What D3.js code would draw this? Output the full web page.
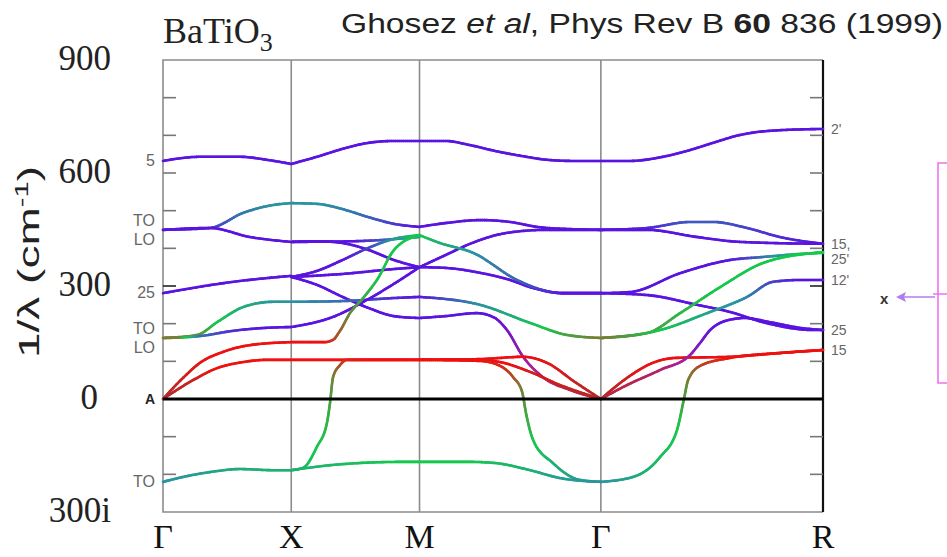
<!DOCTYPE html>
<html>
<head>
<meta charset="utf-8">
<script src="https://d3js.org/d3.v7.min.js"></script>
<style>
	body { margin: 0; background: #fff; }
</style>
</head>
<body>
<div class="chart"></div>
<script>

	// high symmetry points along the path (units of 2pi/a)
	var kLabels = ["Γ", "X", "M", "Γ", "R"];
	var kPos = [0, 0.5, 1.0, 1.707, 2.573];

	// frequency axis (cm-1), negative = imaginary
	var yTickValues = [-300, 0, 300, 600, 900];
	var yTickLabels = ["300i", "0", "300", "600", "900"];
	var minorTicks = [-200, -100, 100, 200, 300, 400, 500, 600, 700, 800];

	// mode labels at Gamma (left) and R (right)
	var gammaLabels = ["5", "TO", "LO", "25", "TO", "LO", "A", "TO"];
	var gammaFreqs = [632, 449, 449, 281, 162, 162, 0, -220];
	var rLabels = ["2'", "15,", "25'", "12'", "25", "15"];
	var rFreqs = [717, 412, 388, 316, 183, 130];

	// branches: [k, frequency, character]
	// character: -0.3 dark red, 0 red, 0.25 olive, 0.5 green, 0.72 teal, 1 purple, 1.5 magenta, 2 dark red
	var branchesGX = [
		[[0,632,1],[0.144,643,1],[0.3,643,1],[0.405,635,1],[0.5,624,1]],
		[[0,449,1],[0.183,454,0.92],[0.312,494,0.78],[0.429,515,0.72],[0.5,520,0.72]],
		[[0,449,1],[0.183,454,1],[0.339,430,1],[0.5,417,1]],
		[[0,281,1],[0.273,311,1],[0.5,327,1]],
		[[0,162,0.28],[0.133,170,0.32],[0.211,204,0.5],[0.312,244,0.62],[0.429,258,0.7],[0.5,258,0.72]],
		[[0,162,0.28],[0.06,163,0.3],[0.144,167,0.8],[0.273,181,0.95],[0.405,189,1],[0.5,191,1]],
		[[0,0,-0.3],[0.078,56,-0.2],[0.144,96,-0.05],[0.234,125,0],[0.339,143,0],[0.5,151,0]],
		[[0,0,-0.3],[0.117,50,-0.2],[0.211,82,0],[0.312,98,0],[0.405,104,0],[0.5,104,0]],
		[[0,-220,0.72],[0.078,-207,0.7],[0.183,-194,0.66],[0.3,-186,0.62],[0.429,-189,0.6],[0.5,-189,0.6]]
	];

	var branchesXM = [
		[[0.5,624,1],[0.6,643,1],[0.7,664,1],[0.8,680,1],[0.9,685,1],[1,685,1]],
		[[0.5,520,0.72],[0.6,518,0.72],[0.7,504,0.76],[0.8,483,0.82],[0.9,465,0.92],[1,457,1]],
		[[0.5,417,1],[0.6,419,1],[0.7,414,1],[0.8,396,1],[0.9,369,1],[1,350,1]],
		[[0.5,417,1],[0.75,419,1],[1,430,0.65]],
		[[0.5,324,1],[0.6,340,1],[0.7,369,1],[0.8,401,0.9],[0.9,425,0.7],[1,435,0.5]],
		[[0.5,324,1],[0.6,303,1],[0.7,271,1],[0.8,242,1],[0.9,220,1],[1,215,1]],
		[[0.5,324,1],[0.7,332,1],[0.9,345,1],[1,350,1]],
		[[0.5,258,0.72],[0.7,260,0.8],[0.9,268,0.95],[1,271,1]],
		[[0.5,191,1],[0.663,218,1],[0.795,263,1],[0.924,316,1],[1,350,1]],
		[[0.5,151,0],[0.63,151,0],[0.663,157,0.1],[0.69,181,0.2],[0.729,228,0.32],[0.78,268,0.42],[0.834,316,0.48],[0.901,396,0.5],[1,435,0.5]],
		[[0.5,104,0],[1,104,0]],
		[[0.5,-189,0.6],[0.546,-183,0.56],[0.6,-127,0.5],[0.639,-64,0.45],[0.651,-11,0.4],[0.663,58,0.3],[0.69,90,0.15],[0.717,104,0.05],[0.8,104,0],[1,104,0]],
		[[0.5,-189,0.6],[0.663,-175,0.56],[0.924,-167,0.5],[1,-167,0.5]]
	];

	var branchesMG = [
		[[1,685,1],[1.101,685,1],[1.197,674,1],[1.298,658,1],[1.4,645,1],[1.497,635,1],[1.598,632,1],[1.707,632,1]],
		[[1,457,1],[1.101,467,1],[1.236,475,1],[1.353,470,1],[1.458,457,1],[1.587,451,1],[1.707,449,1]],
		[[1,350,1],[1.101,382,1],[1.197,412,1],[1.298,435,1],[1.4,446,1],[1.497,449,1],[1.707,449,1]],
		[[1,350,1],[1.101,348,1],[1.236,335,1],[1.353,316,1],[1.431,297,1],[1.559,281,1],[1.707,281,1]],
		[[1,435,0.5],[1.08,414,0.6],[1.209,388,0.72],[1.38,316,0.82],[1.481,289,0.92],[1.559,281,1],[1.707,281,1]],
		[[1,271,1],[1.236,250,0.72],[1.431,202,0.55],[1.575,170,0.4],[1.707,162,0.28]],
		[[1,215,1],[1.101,220,1],[1.224,228,1],[1.294,215,1.05],[1.341,183,1.15],[1.404,112,1.4],[1.481,58,1.65],[1.587,24,1.8],[1.707,0,1.9]],
		[[1,104,0],[1.236,106,0],[1.404,112,0],[1.497,96,-0.05],[1.606,45,-0.2],[1.707,0,-0.3]],
		[[1,104,0],[1.236,104,0],[1.314,98,0],[1.431,72,-0.1],[1.548,37,-0.2],[1.707,0,-0.3]],
		[[1,104,0],[1.236,101,0],[1.314,88,0.05],[1.365,58,0.15],[1.4,19,0.3],[1.415,-37,0.4],[1.443,-109,0.5],[1.52,-170,0.6],[1.626,-215,0.68],[1.707,-220,0.72]],
		[[1,-167,0.5],[1.197,-167,0.5],[1.294,-170,0.55],[1.431,-189,0.6],[1.548,-210,0.68],[1.707,-220,0.72]]
	];

	var branchesGR = [
		[[1.707,632,1],[1.821,632,1],[1.949,643,1],[2.055,661,1],[2.144,680,1],[2.25,701,1],[2.366,712,1],[2.573,717,1]],
		[[1.707,449,1],[1.887,454,0.95],[2.055,470,0.85],[2.144,470,0.85],[2.277,454,0.9],[2.405,430,0.95],[2.573,412,1]],
		[[1.707,449,1],[1.887,449,1],[2.082,430,1],[2.25,417,1],[2.573,412,1]],
		[[1.707,281,1],[1.821,284,1],[2.016,334,1],[2.211,369,1],[2.339,377,0.8],[2.483,385,0.55],[2.573,388,0.5]],
		[[1.707,281,1],[1.887,276,1],[2.082,250,1],[2.211,231,1],[2.339,204,1],[2.534,183,1],[2.573,183,1]],
		[[1.707,162,0.28],[1.887,175,0.36],[2.016,228,0.45],[2.172,297,0.5],[2.339,361,0.5],[2.573,390,0.5]],
		[[1.707,162,0.28],[1.938,183,0.5],[2.121,228,0.65],[2.277,271,0.75],[2.378,311,0.9],[2.483,316,1],[2.573,316,1]],
		[[1.707,0,-0.3],[1.809,56,-0.15],[1.899,93,0],[1.996,109,0],[2.211,112,0],[2.405,122,0],[2.573,130,0]],
		[[1.707,0,1.9],[1.809,37,1.85],[1.938,77,1.7],[2.055,117,1.4],[2.094,149,1.2],[2.133,183,1.05],[2.191,207,1],[2.269,215,1],[2.366,204,1],[2.483,189,1],[2.573,183,1]],
		[[1.707,-220,0.72],[1.832,-207,0.65],[1.938,-154,0.55],[2.004,-82,0.5],[2.031,0,0.4],[2.047,50,0.3],[2.094,88,0.15],[2.211,109,0],[2.4,122,0],[2.573,130,0]]
	];

	var width = 947,
		height = 557;

	var svg = d3.select(".chart").append("svg")
		.attr("width", width)
		.attr("height", height);

	// scales
	var x = d3.scaleLinear().domain([0, 2.573]).range([163, 823]);
	var y = d3.scaleLinear().domain([-300, 900]).range([512, 60]);

	var color = d3.scaleLinear()
		.domain([-0.3, 0, 0.25, 0.5, 0.72, 1, 1.5, 2])
		.range(["#b42a2a", "#ee1111", "#8a7030", "#16c84c", "#2a94a0", "#5a14e0", "#a8209a", "#c02828"]);

	var serif = "'Liberation Serif', 'Times New Roman', serif",
		sans = "'Liberation Sans', Arial, sans-serif";

	// vertical lines at high symmetry points
	svg.selectAll(".kline")
		.data(kPos.slice(1, 4))
		.enter().append("line")
		.attr("x1", function(d) { return x(d); })
		.attr("x2", function(d) { return x(d); })
		.attr("y1", y(900))
		.attr("y2", y(-300))
		.attr("stroke", "#8c8c8c")
		.attr("stroke-width", 1.6);

	// frame
	svg.append("path")
		.attr("d", "M" + x(kPos[4]) + "," + y(900) + "H" + x(0) + "V" + y(-300) + "H" + x(kPos[4]))
		.attr("fill", "none")
		.attr("stroke", "#8c8c8c")
		.attr("stroke-width", 1.6);

	svg.append("line")
		.attr("x1", x(kPos[4])).attr("x2", x(kPos[4]))
		.attr("y1", y(900)).attr("y2", y(-300))
		.attr("stroke", "#111")
		.attr("stroke-width", 2.2);

	// inner ticks on both sides
	minorTicks.forEach(function(t) {
		var c = t == 300 ? "#222" : "#777";
		svg.append("line")
			.attr("x1", x(0)).attr("x2", x(0) + 13)
			.attr("y1", y(t)).attr("y2", y(t))
			.attr("stroke", c).attr("stroke-width", 1.6);
		svg.append("line")
			.attr("x1", x(kPos[4]) - 13).attr("x2", x(kPos[4]))
			.attr("y1", y(t)).attr("y2", y(t))
			.attr("stroke", c).attr("stroke-width", 1.6);
	});

	// dispersion branches, coloured along their length
	var line = d3.line()
		.x(function(d) { return x(d[0]); })
		.y(function(d) { return y(d[1]); })
		.curve(d3.curveMonotoneX);

	var curves = svg.append("g");
	var allBranches = branchesGX.concat(branchesXM, branchesMG, branchesGR);

	allBranches.forEach(function(b) {
		var tmp = curves.append("path").attr("d", line(b)).attr("fill", "none");
		var node = tmp.node(),
			len = node.getTotalLength();
		var charAt = d3.scaleLinear()
			.domain(b.map(function(d) { return d[0]; }))
			.range(b.map(function(d) { return d[2]; }))
			.clamp(true);
		var n = Math.max(2, Math.ceil(len / 2)),
			prev = node.getPointAtLength(0);
		for (var i = 1; i <= n; i++) {
			var p = node.getPointAtLength(len * i / n);
			curves.append("line")
				.attr("x1", prev.x).attr("y1", prev.y)
				.attr("x2", p.x).attr("y2", p.y)
				.attr("stroke", color(charAt(x.invert((prev.x + p.x) / 2))))
				.attr("stroke-width", 2.6)
				.attr("stroke-linecap", "round");
			prev = p;
		}
		tmp.remove();
	});

	// zero line
	svg.append("line")
		.attr("x1", x(0)).attr("x2", x(kPos[4]))
		.attr("y1", y(0)).attr("y2", y(0))
		.attr("stroke", "#000")
		.attr("stroke-width", 3.2);

	// y tick labels
	svg.selectAll(".ylab")
		.data(yTickValues)
		.enter().append("text")
		.attr("x", function(d) { return d == 0 ? 98 : 111; })
		.attr("y", function(d) { return y(d) + 10; })
		.attr("text-anchor", "end")
		.attr("font-family", serif)
		.attr("font-size", 35)
		.attr("fill", "#222")
		.text(function(d, i) { return yTickLabels[i]; });

	// x labels
	svg.selectAll(".xlab")
		.data(kPos)
		.enter().append("text")
		.attr("x", function(d) { return x(d); })
		.attr("y", 548)
		.attr("text-anchor", "middle")
		.attr("font-family", serif)
		.attr("font-size", 34)
		.attr("fill", "#111")
		.text(function(d, i) { return kLabels[i]; });

	// mode labels at Gamma
	gammaLabels.forEach(function(t, i) {
		var dy = 0;
		if (gammaFreqs[i + 1] === gammaFreqs[i]) dy = -9;
		if (gammaFreqs[i - 1] === gammaFreqs[i]) dy = 10;
		svg.append("text")
			.attr("x", 155)
			.attr("y", y(gammaFreqs[i]) + dy + 5)
			.attr("text-anchor", "end")
			.attr("font-family", sans)
			.attr("font-size", t == "A" ? 14 : 16)
			.attr("font-weight", t == "A" ? "bold" : "normal")
			.attr("fill", t == "A" ? "#222" : "#666")
			.text(t);
	});

	// mode labels at R
	rLabels.forEach(function(t, i) {
		svg.append("text")
			.attr("x", 831)
			.attr("y", y(rFreqs[i]) + 5 + (i == 2 ? 6 : 0))
			.attr("font-family", sans)
			.attr("font-size", 14)
			.attr("fill", "#666")
			.text(t);
	});

	// titles
	var bt = svg.append("text")
		.attr("x", 163)
		.attr("y", 43)
		.attr("font-family", serif)
		.attr("font-size", 36)
		.attr("fill", "#222");
	bt.append("tspan").text("BaTiO");
	bt.append("tspan").attr("dy", 8).attr("font-size", 26).text("3");

	var ref = svg.append("text")
		.attr("x", 341)
		.attr("y", 33)
		.attr("textLength", 602)
		.attr("lengthAdjust", "spacingAndGlyphs")
		.attr("font-family", sans)
		.attr("font-size", 27)
		.attr("fill", "#222");
	ref.append("tspan").text("Ghosez ");
	ref.append("tspan").attr("font-style", "italic").text("et al");
	ref.append("tspan").text(", Phys Rev B ");
	ref.append("tspan").attr("font-weight", "bold").text("60");
	ref.append("tspan").text(" 836 (1999)");

	// y axis title
	var yt = svg.append("text")
		.attr("transform", "translate(39,358) rotate(-90)")
		.attr("x", 0)
		.attr("textLength", 192)
		.attr("lengthAdjust", "spacingAndGlyphs")
		.attr("font-family", sans)
		.attr("font-size", 30)
		.attr("fill", "#222");
	yt.append("tspan").text("1/λ (cm");
	yt.append("tspan").attr("dy", -11).attr("font-size", 19).text("-1");
	yt.append("tspan").attr("dy", 11).text(")");

	// bracket and arrow at the right
	svg.append("path")
		.attr("d", "M947,163H938V383H947M933,294H947")
		.attr("fill", "none")
		.attr("stroke", "#f070f0")
		.attr("stroke-width", 1.6);

	svg.append("line")
		.attr("x1", 935).attr("x2", 900)
		.attr("y1", 297).attr("y2", 297)
		.attr("stroke", "#b07cf0")
		.attr("stroke-width", 1.6);

	svg.append("path")
		.attr("d", "M896,297L906,292L904,297L906,302Z")
		.attr("fill", "#b07cf0");

	svg.append("text")
		.attr("x", 880)
		.attr("y", 304)
		.attr("font-family", sans)
		.attr("font-size", 15)
		.attr("font-weight", "bold")
		.attr("fill", "#333")
		.text("x");

</script>
</body>
</html>
